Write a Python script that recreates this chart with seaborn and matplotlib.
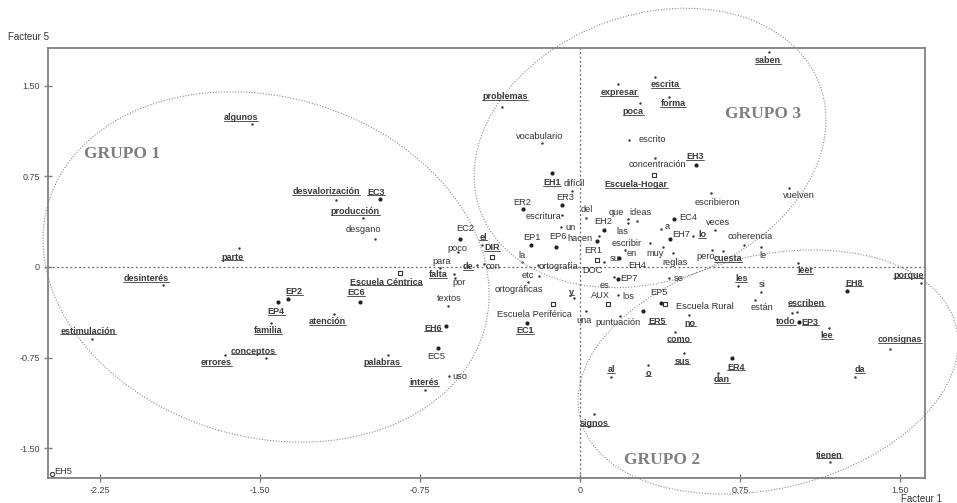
import matplotlib
matplotlib.use("Agg")
import matplotlib.pyplot as plt
import matplotlib.transforms as mtransforms
from matplotlib.patches import Ellipse
from matplotlib.lines import Line2D
import seaborn as sns
import pandas as pd

# modalities (words, cases, schools) on factors 1 and 5
words = ["algunos", "parte", "desinterés", "estimulación", "EP2", "EP4", "familia", "conceptos", "errores", "EH5",
         "desvalorización", "EC3", "producción", "desgano", "EC2", "poco", "para", "el", "DIR", "de",
         "con", "falta", "por", "textos", "Escuela Céntrica", "EC6", "atención", "EH6", "EC5", "palabras",
         "uso", "interés", "problemas", "vocabulario", "EH1", "difícil", "ER2", "ER3", "escritura", "un",
         "del", "EH2", "que", "ideas", "las", "escribir", "en", "muy", "su", "EH4",
         "reglas", "pero", "cuesta", "le", "lo", "EH7", "a", "EC4", "veces", "coherencia",
         "escribieron", "vuelven", "EH3", "concentración", "Escuela-Hogar", "escrito", "expresar", "escrita", "poca", "forma",
         "saben", "hacen", "ER1", "DOC", "EP1", "EP6", "la", "ortografía", "etc", "ortográficas",
         "y", "Escuela Periférica", "EC1", "una", "es", "EP7", "AUX", "los", "puntuación", "EP5",
         "Escuela Rural", "ER5", "se", "no", "como", "sus", "o", "al", "signos", "dan",
         "ER4", "les", "si", "están", "escriben", "todo", "EP3", "lee", "leer", "EH8",
         "porque", "consignas", "da", "tienen"]

f1 = [-1.538, -1.599, -1.955, -2.288, -1.369, -1.416, -1.449, -1.472, -1.664, -2.475,
      -1.144, -0.938, -1.017, -0.961, -0.563, -0.572, -0.656, -0.459, -0.413, -0.483,
      -0.450, -0.591, -0.586, -0.619, -0.844, -1.031, -1.153, -0.628, -0.666, -0.900,
      -0.614, -0.727, -0.366, -0.178, -0.131, -0.038, -0.267, -0.084, -0.084, -0.089,
      0.028, 0.113, 0.225, 0.267, 0.225, 0.328, 0.211, 0.389, 0.113, 0.183,
      0.436, 0.619, 0.670, 0.849, 0.530, 0.422, 0.380, 0.441, 0.633, 0.769,
      0.614, 0.980, 0.544, 0.352, 0.347, 0.230, 0.178, 0.352, 0.281, 0.417,
      0.886, 0.089, 0.080, 0.080, -0.230, -0.113, -0.272, -0.197, -0.192, -0.244,
      -0.028, -0.127, -0.248, 0.028, 0.159, 0.178, 0.131, 0.178, 0.188, 0.380,
      0.398, 0.295, 0.417, 0.511, 0.445, 0.488, 0.319, 0.145, 0.066, 0.647,
      0.713, 0.741, 0.849, 0.820, 1.017, 0.994, 1.027, 1.167, 1.022, 1.252,
      1.599, 1.453, 1.289, 1.172]

f5 = [1.185, 0.157, -0.149, -0.597, -0.265, -0.290, -0.464, -0.754, -0.729, -1.715,
      0.555, 0.563, 0.406, 0.232, 0.232, 0.124, -0.008, 0.182, 0.083, 0.017,
      0.025, -0.058, -0.091, -0.323, -0.050, -0.290, -0.389, -0.489, -0.671, -0.729,
      -0.903, -1.019, 1.326, 1.027, 0.779, 0.630, 0.480, 0.514, 0.431, 0.331,
      0.406, 0.307, 0.398, 0.381, 0.365, 0.199, 0.141, 0.166, 0.041, 0.075,
      0.116, 0.141, 0.133, 0.166, 0.257, 0.232, 0.315, 0.398, 0.307, 0.182,
      0.613, 0.655, 0.845, 0.903, 0.762, 1.052, 1.516, 1.574, 1.359, 1.408,
      1.781, 0.257, 0.215, 0.058, 0.182, 0.166, 0.041, 0.017, -0.075, -0.124,
      -0.257, -0.307, -0.464, -0.365, -0.083, -0.099, -0.307, -0.232, -0.406, -0.298,
      -0.307, -0.365, -0.091, -0.398, -0.539, -0.713, -0.812, -0.911, -1.218, -0.878,
      -0.754, -0.157, -0.207, -0.273, -0.373, -0.381, -0.456, -0.505, 0.033, -0.199,
      -0.133, -0.679, -0.911, -1.616]

# supplementary categories drawn as open squares
squares = ["DIR", "DOC", "AUX", "Escuela Céntrica", "Escuela Periférica", "Escuela Rural", "Escuela-Hogar"]

underlined = ["algunos", "parte", "desinterés", "estimulación", "EP2", "EP4", "familia", "conceptos", "errores",
              "desvalorización", "EC3", "producción", "el", "DIR", "de", "falta", "Escuela Céntrica", "EC6",
              "atención", "EH6", "palabras", "interés", "problemas", "EH1", "expresar", "escrita", "poca",
              "forma", "saben", "EH3", "Escuela-Hogar", "lo", "cuesta", "EC1", "y", "al", "o", "signos", "ER5",
              "no", "como", "sus", "dan", "ER4", "les", "escriben", "todo", "EP3", "lee", "leer", "EH8",
              "porque", "consignas", "da", "tienen"]

groups = ["GRUPO 1", "GRUPO 2", "GRUPO 3"]
group_x = [-2.147, 0.384, 0.858]
group_y = [0.936, -1.599, 1.268]

# label offsets from each point, in pixels
label_off = [(-11, 6), (-7, -9), (-17, 6), (-4, 8), (6, 7), (-2, -10), (-3, -8), (-13, 7), (-9, -8), (11, 3),
             (-10, 8), (-4, 7), (-8, 6), (-12, 9), (5, 10), (-1, 4), (2, 6), (1, 8), (0, 9), (-9, -2),
             (9, -3), (-16, -1), (4, -5), (1, 7), (-14, -9), (-4, 9), (-7, -8), (-13, -2), (-2, -9), (-6, -8),
             (11, -1), (-1, 7), (3, 10), (-2, 6), (0, -10), (2, 7), (-1, 7), (3, 7), (-19, -2), (9, 0),
             (1, 8), (-1, 8), (-12, 6), (3, 8), (-6, -9), (-23, -1), (7, -4), (-8, -7), (10, 4), (18, -8),
             (2, -10), (-6, -7), (5, -8), (2, -9), (9, 1), (11, 4), (6, 2), (14, 1), (3, 7), (6, 9),
             (6, -10), (10, -8), (-1, 8), (2, -7), (-18, -10), (23, 0), (1, -9), (10, -8), (-7, -9), (4, -7),
             (-1, -9), (-19, -3), (-4, -9), (-5, -11), (1, 8), (2, 10), (0, 7), (20, -2), (-11, 1), (-9, -8),
             (-3, 6), (-19, -10), (-2, -8), (-2, -9), (-9, -9), (11, 0), (-8, 9), (10, -2), (-2, -7), (-2, 10),
             (40, -2), (14, -10), (10, -1), (1, -8), (4, -7), (-2, -8), (0, -8), (0, 7), (0, -9), (4, -7),
             (4, -9), (3, 7), (1, 7), (7, -8), (9, 9), (-6, -9), (11, 0), (-2, -8), (7, -8), (7, 8),
             (-13, 8), (10, 9), (5, 7), (-1, 7)]


def kind_of(w):
    if w == "EH5":
        return "open"
    if w in squares:
        return "square"
    if len(w) == 3 and w[0] == "E" and w[1] in "CHPR" and w[2].isdigit():
        return "case"
    return "word"


df = pd.DataFrame({"word": words, "f1": f1, "f5": f5})
df["kind"] = df["word"].apply(kind_of)

sns.set_style("white")
plt.rcParams['font.family'] = ['Liberation Sans', 'DejaVu Sans']

fig = plt.figure(figsize=(9.57, 5.03), dpi=100)
ax = fig.add_axes([0.0502, 0.0497, 0.9164, 0.8549])

ink = "#333333"
sns.scatterplot(data=df[df.kind == "word"], x="f1", y="f5", ax=ax, s=3, color=ink, linewidth=0)
sns.scatterplot(data=df[df.kind == "case"], x="f1", y="f5", ax=ax, s=9, color="#222222", linewidth=0)
sns.scatterplot(data=df[df.kind == "square"], x="f1", y="f5", ax=ax, s=10, marker="s",
                facecolor="white", edgecolor=ink, linewidth=0.8)
sns.scatterplot(data=df[df.kind == "open"], x="f1", y="f5", ax=ax, s=9, marker="o",
                facecolor="white", edgecolor=ink, linewidth=0.8)

ax.set_xlim(-2.494, 1.617)
ax.set_ylim(-1.748, 1.814)

ax.axhline(0, color="#666666", lw=0.9, ls=(0, (1.5, 2)), zorder=0)
ax.axvline(0, color="#666666", lw=0.9, ls=(0, (1.5, 2)), zorder=0)

# group ellipses, sized in inches around a data centre
ell = [((-1.472, 0.0), 4.54, 3.40, -16.3),
       ((0.881, -0.870), 3.87, 2.33, 13.7),
       ((0.328, 0.986), 3.62, 2.66, 20.4)]
for (cx, cy), w, h, a in ell:
    tr = fig.dpi_scale_trans + mtransforms.ScaledTranslation(cx, cy, ax.transData)
    e = Ellipse((0, 0), w, h, angle=a, transform=tr, fill=False, edgecolor="#8a8a8a",
                lw=0.8, ls=(0, (1, 1.5)), clip_on=False)
    ax.add_patch(e)

for g, gx, gy in zip(groups, group_x, group_y):
    ax.text(gx, gy, g, ha="center", va="center", fontsize=12.5, fontweight="bold",
            color="#7f7f7f", family=["Liberation Serif", "DejaVu Serif"])

texts = []
for i, row in df.iterrows():
    dx, dy = label_off[i]
    ul = row.word in underlined
    t = ax.annotate(row.word, (row.f1, row.f5), xytext=(dx, dy), textcoords="offset pixels",
                    ha="center", va="center", fontsize=6.5 if ul else 6.7,
                    fontweight="bold" if ul else "normal", color="#3a3a3a" if ul else ink)
    if ul:
        texts.append(t)

ax.set_xticks([-2.25, -1.5, -0.75, 0, 0.75, 1.5])
ax.set_xticklabels(["-2.25", "-1.50", "-0.75", "0", "0.75", "1.50"])
ax.set_yticks([-1.5, -0.75, 0, 0.75, 1.5])
ax.set_yticklabels(["-1.50", "-0.75", "0", "0.75", "1.50"])
ax.set_xlabel("")
ax.set_ylabel("")
ax.tick_params(direction="inout", length=6, width=1, color="#808080", labelsize=6.5,
               labelcolor="#444444", pad=3, bottom=True, left=True)
for sp in ax.spines.values():
    sp.set_color("#808080")
    sp.set_linewidth(1.3)

fig.text(0.008, 0.926, "Facteur 5", fontsize=7, color=ink, ha="left", va="center")
fig.text(0.984, 0.008, "Facteur 1", fontsize=7, color=ink, ha="right", va="center")

# underline the labels that SPAD shows underlined
fig.canvas.draw()
rend = fig.canvas.get_renderer()
for t in texts:
    bb = t.get_window_extent(renderer=rend)
    yline = bb.y0 + 1.2
    fig.add_artist(Line2D([bb.x0, bb.x1], [yline, yline], color="#3a3a3a", lw=0.6,
                          transform=mtransforms.IdentityTransform()))

fig.savefig("out.png", dpi=100)
